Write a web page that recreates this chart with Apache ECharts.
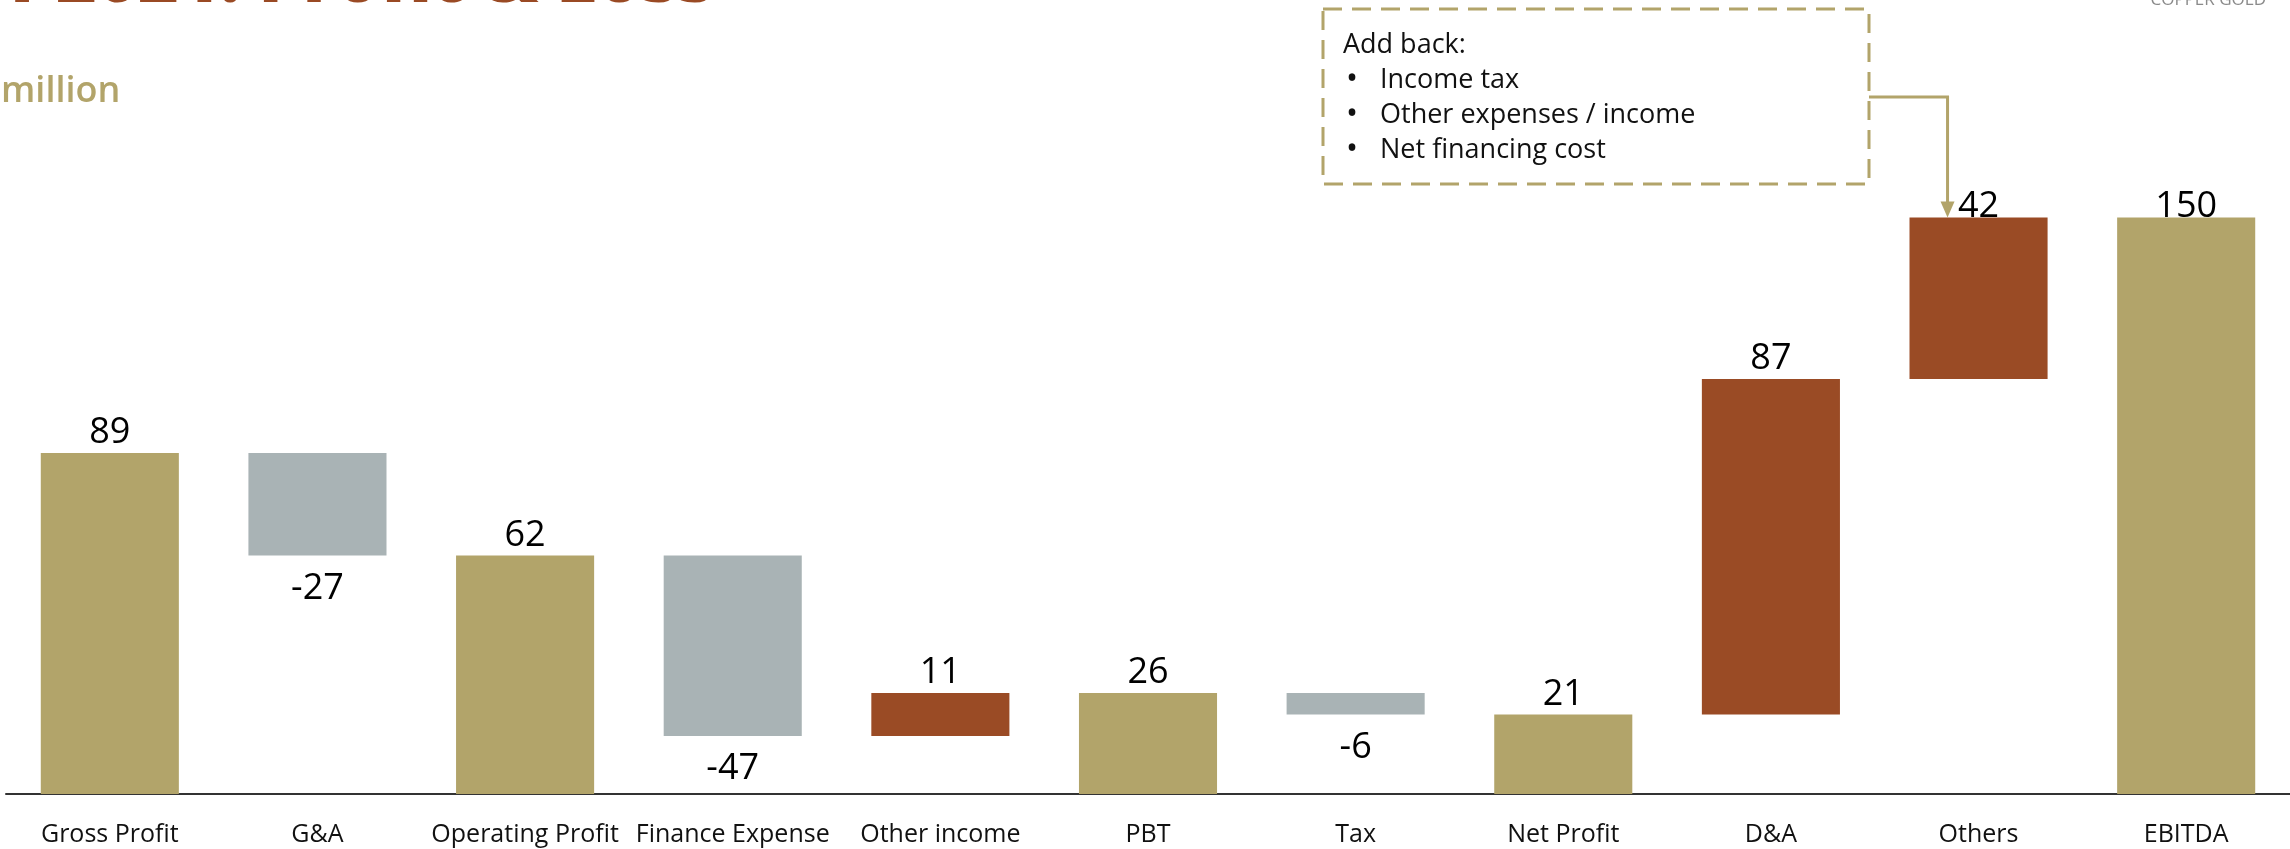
<!DOCTYPE html>
<html><head><meta charset="utf-8">
<script src="https://cdn.jsdelivr.net/npm/echarts@6/dist/echarts.min.js"></script>
<style>html,body{margin:0;padding:0;background:#fff}#c{width:2290px;height:849px}</style>
</head><body><div id="c"></div>
<script>
// ---- data ----
const categories = ['Gross Profit','G&A','Operating Profit','Finance Expense','Other income','PBT','Tax','Net Profit','D&A','Others','EBITDA'];
const values = [88.8, -26.7, 62.1, -47.0, 11.2, 26.3, -5.6, 20.7, 87.4, 42.0, 150.1];
const kinds = ['total','down','total','down','up','total','down','total','up','up','total'];
const noteTitle = 'Add back:';
const noteItems = ['Income tax','Other expenses / income','Net financing cost'];
const unitText = 'million';
const titleText = 'H1 2021: Profit & Loss';
const brandText = 'COPPER GOLD';

// ---- styles ----
const GOLD = '#B2A46A', GREY = '#A9B3B5', RUST = '#9A4B25';
const kindColor = {total: GOLD, down: GREY, up: RUST};
const FONT = '"Open Sans", "Noto Sans", sans-serif';

// waterfall geometry from values
const base = [], size = [];
let run = 0;
values.forEach((v, i) => {
  if (kinds[i] === 'total') { base.push(0); size.push(v); run = v; }
  else { const end = run + v; base.push(Math.min(run, end)); size.push(Math.abs(v)); run = end; }
});

const YMAX = 200;
const barData = size.map((s, i) => {
  const top = base[i] + s;
  const down = kinds[i] === 'down';
  return {
    value: s,
    itemStyle: {color: kindColor[kinds[i]]},
    label: {
      position: down ? 'bottom' : 'top',
      distance: down ? 15 : (top > 140 ? -7 : 2)
    }
  };
});

const chart = echarts.init(document.getElementById('c'), null, {renderer: 'canvas'});
const option = {
  animation: false,
  backgroundColor: '#fff',
  grid: {left: 6, right: 0, top: 26, bottom: 55, containLabel: false},
  xAxis: {
    type: 'category', data: categories,
    axisLine: {lineStyle: {color: '#333', width: 2}},
    axisTick: {show: false},
    axisLabel: {color: '#111', fontFamily: FONT, fontSize: 25, margin: 28, interval: 0}
  },
  yAxis: {type: 'value', min: 0, max: YMAX, show: false, splitLine: {show: false}},
  series: [
    {type: 'bar', stack: 'w', silent: true, itemStyle: {color: 'rgba(0,0,0,0)'}, data: base, barWidth: '66.5%'},
    {type: 'bar', stack: 'w', barWidth: '66.5%', data: barData,
     label: {show: true, color: '#000', fontFamily: FONT, fontSize: 36,
             formatter: p => String(Math.round(values[p.dataIndex]))}}
  ]
};
chart.setOption(option);

// annotation & texts
const othersIdx = categories.indexOf('Others');
const tip = chart.convertToPixel({gridIndex: 0}, [othersIdx, base[othersIdx] + size[othersIdx]]);
const ax = tip[0] - 31, ay = tip[1];
const boxX = 1323, boxY = 9, boxW = 546, boxH = 175;
const lineY = [53, 88, 123, 158];
const noteFont = 27;
const graphics = [
  {type: 'text', x: 714, y: -18, style: {text: titleText, fill: '#9A4A24', font: '800 70px ' + FONT, textAlign: 'right', textVerticalAlign: 'middle'}},
  {type: 'text', x: 2266, y: 0, style: {text: brandText, fill: '#8a8a8a', font: '17px ' + FONT, textAlign: 'right', textVerticalAlign: 'middle'}},
  {type: 'text', x: 1, y: 92, style: {text: unitText, fill: GOLD, font: '600 36px ' + FONT, textAlign: 'left', textVerticalAlign: 'middle'}},
  {type: 'rect', shape: {x: boxX, y: boxY, width: boxW, height: boxH}, style: {fill: 'none', stroke: GOLD, lineWidth: 3, lineDash: [19, 10]}},
  {type: 'text', x: 1343, y: lineY[0] - 8, style: {text: noteTitle, fill: '#111', font: noteFont + 'px ' + FONT, textVerticalAlign: 'middle'}}
];
noteItems.forEach((t, k) => {
  graphics.push({type: 'text', x: 1346, y: lineY[k + 1] - 8, style: {text: '•', fill: '#111', font: '32px ' + FONT, textVerticalAlign: 'middle'}});
  graphics.push({type: 'text', x: 1380, y: lineY[k + 1] - 8, style: {text: t, fill: '#111', font: noteFont + 'px ' + FONT, textVerticalAlign: 'middle'}});
});
graphics.push({type: 'polyline', shape: {points: [[boxX + boxW, 97], [ax, 97], [ax, ay - 15]]}, style: {stroke: GOLD, lineWidth: 3, fill: null}});
graphics.push({type: 'polygon', shape: {points: [[ax - 7, ay - 16], [ax + 7, ay - 16], [ax, ay]]}, style: {fill: GOLD}});
chart.setOption({graphic: graphics});
</script></body></html>
